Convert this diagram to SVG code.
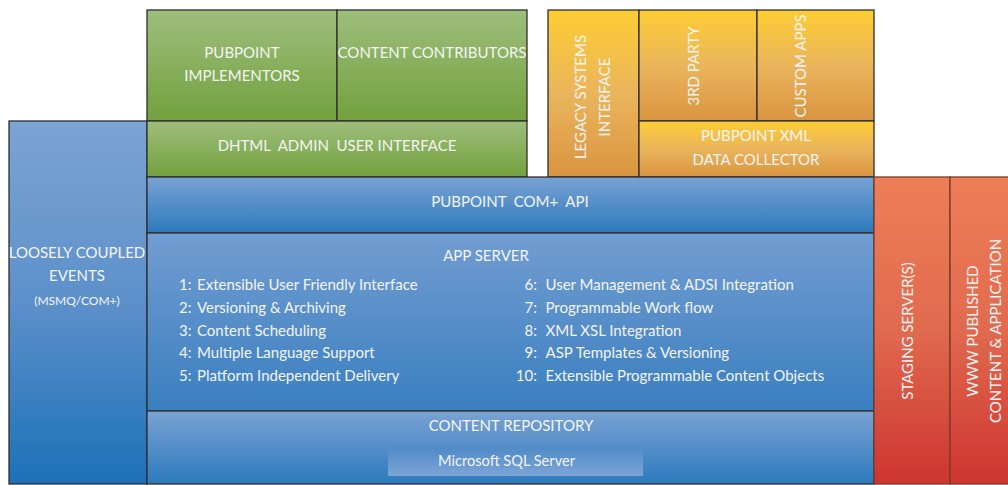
<svg xmlns="http://www.w3.org/2000/svg" width="1008" height="485" viewBox="0 0 1008 485">
<defs>
<linearGradient id="gGreen" x1="0" y1="0" x2="0" y2="1"><stop offset="0" stop-color="#9EBE7C"/><stop offset="1" stop-color="#72A13D"/></linearGradient>
<linearGradient id="gBlue" x1="0" y1="0" x2="0" y2="1"><stop offset="0" stop-color="#7AA2D3"/><stop offset="1" stop-color="#2C7ABD"/></linearGradient>
<linearGradient id="gBlueApp" x1="0" y1="0" x2="0" y2="1"><stop offset="0" stop-color="#729DD1"/><stop offset="1" stop-color="#3A7FC0"/></linearGradient>
<linearGradient id="gBlueLeft" x1="0" y1="0" x2="0" y2="1"><stop offset="0" stop-color="#7CA4D4"/><stop offset="0.5" stop-color="#5C90CA"/><stop offset="1" stop-color="#1C71B7"/></linearGradient>
<linearGradient id="gSql" x1="0" y1="0" x2="0" y2="1"><stop offset="0" stop-color="#4F8AC8"/><stop offset="1" stop-color="#7DA5D6"/></linearGradient>
<linearGradient id="gOrange" x1="0" y1="0" x2="0" y2="1"><stop offset="0" stop-color="#FDCD33"/><stop offset="0.5" stop-color="#EAB55C"/><stop offset="1" stop-color="#DA9440"/></linearGradient>
<linearGradient id="gRed" x1="0" y1="0" x2="0" y2="1"><stop offset="0" stop-color="#EE7E58"/><stop offset="0.5" stop-color="#E06A4E"/><stop offset="1" stop-color="#CE3430"/></linearGradient>
</defs>
<style>
rect.box{stroke:#2E2E2E;stroke-width:1.3}
rect.redbox{stroke:#7A3A2A;stroke-width:1.3}
text{font-family:Lato,"Liberation Sans",sans-serif;fill:#F4F4F4}
.t{font-size:15px;text-anchor:middle}
.i{font-size:15px}
.n{font-size:15px;text-anchor:end}
.s{font-size:12px;text-anchor:middle}
.q{font-size:14.6px;text-anchor:middle}
</style>
<rect width="1008" height="485" fill="#FFFFFF"/>

<g id="loosely-coupled-events">
<rect class="box" x="9" y="121" width="138" height="363" fill="url(#gBlueLeft)"/>
<text class="t" x="77" y="258">LOOSELY COUPLED</text>
<text class="t" x="77" y="281">EVENTS</text>
<text class="s" x="77" y="305">(MSMQ/COM+)</text>
</g>

<g id="pubpoint-implementors">
<rect class="box" x="147" y="10" width="190" height="111" fill="url(#gGreen)"/>
<text class="t" x="242" y="58">PUBPOINT</text>
<text class="t" x="242" y="81">IMPLEMENTORS</text>
</g>
<g id="content-contributors">
<rect class="box" x="337" y="10" width="190" height="111" fill="url(#gGreen)"/>
<text class="t" x="432" y="58">CONTENT CONTRIBUTORS</text>
</g>
<g id="dhtml-admin">
<rect class="box" x="147" y="121" width="380" height="56" fill="url(#gGreen)"/>
<text class="t" x="337" y="151" xml:space="preserve">DHTML  ADMIN  USER INTERFACE</text>
</g>

<g id="legacy-systems">
<rect class="box" x="548" y="10" width="91" height="167" fill="url(#gOrange)"/>
<text class="t" transform="translate(585.5,97) rotate(-90)">LEGACY SYSTEMS</text>
<text class="t" transform="translate(609.5,97) rotate(-90)">INTERFACE</text>
</g>
<g id="third-party">
<rect class="box" x="639" y="10" width="118" height="111" fill="url(#gOrange)"/>
<text class="t" transform="translate(698.5,66) rotate(-90)">3RD PARTY</text>
</g>
<g id="custom-apps">
<rect class="box" x="757" y="10" width="117" height="111" fill="url(#gOrange)"/>
<text class="t" transform="translate(805.5,66) rotate(-90)">CUSTOM APPS</text>
</g>
<g id="xml-data-collector">
<rect class="box" x="639" y="121" width="235" height="56" fill="url(#gOrange)"/>
<text class="t" x="756" y="141">PUBPOINT XML</text>
<text class="t" x="756" y="164.5">DATA COLLECTOR</text>
</g>

<g id="com-api">
<rect class="box" x="147" y="177" width="727" height="56" fill="url(#gBlue)"/>
<text class="t" x="510" y="207" xml:space="preserve">PUBPOINT  COM+  API</text>
</g>

<g id="app-server">
<rect class="box" x="147" y="233" width="727" height="178" fill="url(#gBlueApp)"/>
<text class="t" x="486" y="261">APP SERVER</text>
<text class="i" x="179" y="290">1:</text><text class="i" x="197" y="290">Extensible User Friendly Interface</text>
<text class="i" x="179" y="313">2:</text><text class="i" x="197" y="313">Versioning &amp; Archiving</text>
<text class="i" x="179" y="336">3:</text><text class="i" x="197" y="336">Content Scheduling</text>
<text class="i" x="179" y="358">4:</text><text class="i" x="197" y="358">Multiple Language Support</text>
<text class="i" x="179" y="381">5:</text><text class="i" x="197" y="381">Platform Independent Delivery</text>
<text class="n" x="537" y="290">6:</text><text class="i" x="545.5" y="290">User Management &amp; ADSI Integration</text>
<text class="n" x="537" y="313">7:</text><text class="i" x="545.5" y="313">Programmable Work flow</text>
<text class="n" x="537" y="336">8:</text><text class="i" x="545.5" y="336">XML XSL Integration</text>
<text class="n" x="537" y="358">9:</text><text class="i" x="545.5" y="358">ASP Templates &amp; Versioning</text>
<text class="n" x="537" y="381">10:</text><text class="i" x="545.5" y="381">Extensible Programmable Content Objects</text>
</g>

<g id="content-repository">
<rect class="box" x="147" y="411" width="727" height="73" fill="url(#gBlue)"/>
<text class="t" x="511" y="431">CONTENT REPOSITORY</text>
</g>
<g id="sql-server">
<rect x="388" y="447" width="255" height="29" fill="url(#gSql)"/>
<text class="q" x="506.5" y="465.5">Microsoft SQL Server</text>
</g>

<g id="staging-servers">
<rect class="redbox" x="874" y="177" width="76" height="307" fill="url(#gRed)"/>
<text class="t" transform="translate(912.5,331) rotate(-90)">STAGING SERVER(S)</text>
</g>
<g id="www-published">
<rect class="redbox" x="950" y="177" width="62" height="307" fill="url(#gRed)"/>
<text class="t" transform="translate(977.5,331) rotate(-90)">WWW PUBLISHED</text>
<text class="t" transform="translate(1001,331) rotate(-90)">CONTENT &amp; APPLICATION</text>
</g>

<g id="connectors"></g>
</svg>
